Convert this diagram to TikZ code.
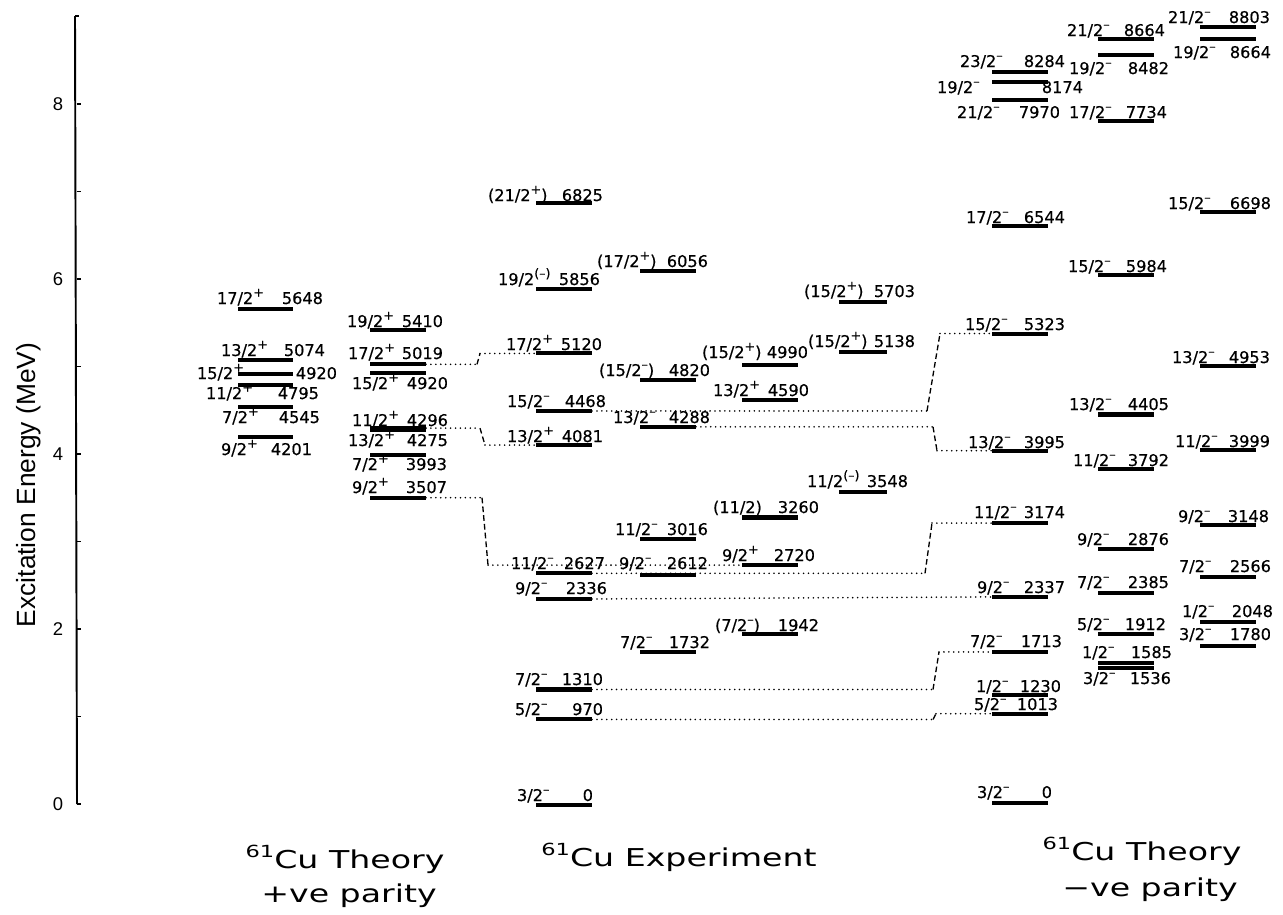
\documentclass[tikz,border=0pt]{standalone}
\usepackage{fontspec}
\setmainfont{DejaVu Sans}
\newfontfamily\helv{Liberation Sans}
\newfontfamily\lblfont[FakeBold=0.5]{DejaVu Sans}
\newfontfamily\widefont[FakeStretch=1.35]{DejaVu Sans}
\usetikzlibrary{calc}
\newcommand\spp[1]{\raisebox{0.45em}{\fontsize{7.2}{7.5}\selectfont #1}}
\newcommand\mi{\textendash}
\newcommand\isot{\raisebox{0.42em}{\fontsize{9.5}{9.5}\selectfont 61}}
\tikzset{
  lvlbar/.style={line width=2.3pt},
  lbl/.style={font=\lblfont\fontsize{9.2}{10}\selectfont, inner sep=0pt, outer sep=0pt},
  dotln/.style={line width=1pt, line cap=round, dash pattern=on 0pt off 2.8pt},
  dashln/.style={line width=0.75pt, dash pattern=on 3.2pt off 1.8pt},
  ttl/.style={font=\widefont\fontsize{14}{16}\selectfont, inner sep=0pt},
  ticklbl/.style={font=\helv\fontsize{10.5}{11}\selectfont, inner sep=0pt},
  axisln/.style={line width=1.1pt},
}
% #1 name, #2 xL, #3 xR, #4 spin x, #5 baseline, #6 spin, #7 energy, #8 energy right x
\newcommand\lvl[8]{%
  \pgfmathsetmacro\yy{805-0.0882*#7+\coloff}%
  \coordinate (#1L) at (#2,\yy);%
  \coordinate (#1R) at (#3,\yy);%
  \draw[lvlbar] (#1L) -- (#1R);%
  \node[lbl,anchor=base west] (#1s) at (#4,#5) {#6};%
  \node[lbl,anchor=base east] (#1e) at (#8,#5) {#7};%
}
\begin{document}
\begin{tikzpicture}[x=0.02cm,y=-0.02cm]
\useasboundingbox (0,0) rectangle (1283,914);

% axis
\coordinate (axtop) at (75,16);
\coordinate (axbot) at (77,804);
\draw[axisln] (axtop) -- (axbot);
\draw[axisln] (axtop) -- ++(4,0);
\foreach \e in {0,...,8}{
  \pgfmathsetmacro\ty{804-87.5*\e}
  \draw[line width=0.8pt] (76.5,\ty) -- (81,\ty);
}
\foreach \e in {0,2,4,6,8}{
  \pgfmathsetmacro\ty{804-87.5*\e}
  \node[ticklbl] (tick\e) at (58,\ty) {\e};
}
\node[font=\helv\fontsize{15}{16}\selectfont, rotate=90, inner sep=0pt] (ylabel) at (29,485) {Excitation Energy (MeV)};

% Theory + parity, column a
\def\coloff{(2.5)}
\lvl{ta5648}{238}{293}{217}{304}{17/2\spp{+}}{5648}{323}
\lvl{ta5074}{238}{293}{221}{356}{13/2\spp{+}}{5074}{325}
\lvl{ta4920}{238}{293}{197}{379}{15/2\spp{+}}{4920}{337}
\lvl{ta4795}{238}{293}{206}{399}{11/2\spp{+}}{4795}{319}
\lvl{ta4545}{238}{293}{222}{423}{7/2\spp{+}}{4545}{320}
\lvl{ta4201}{238}{293}{221}{455}{9/2\spp{+}}{4201}{312}

% Theory + parity, column b
\def\coloff{(2)}
\lvl{tb5410}{370}{426}{347}{327}{19/2\spp{+}}{5410}{443}
\lvl{tb5019}{370}{426}{348}{359}{17/2\spp{+}}{5019}{443}
\lvl{tb4920}{370}{426}{352}{389}{15/2\spp{+}}{4920}{448}
\lvl{tb4296}{370}{426}{352}{426}{11/2\spp{+}}{4296}{448}
\lvl{tb4275}{370}{426}{348}{446}{13/2\spp{+}}{4275}{448}
\lvl{tb3993}{370}{426}{352}{470}{7/2\spp{+}}{3993}{447}
\lvl{tb3507}{370}{426}{352}{493}{9/2\spp{+}}{3507}{447}

% Experiment
\def\coloff{(0)}
\lvl{ea6825}{536}{592}{488}{201}{(21/2\spp{+})}{6825}{603}
\lvl{ea5856}{536}{592}{498}{285}{19/2\spp{(\mi)}}{5856}{600}
\lvl{ea5120}{536}{592}{506}{350}{17/2\spp{+}}{5120}{602}
\lvl{ea4468}{536}{592}{507}{407}{15/2\spp{\mi}}{4468}{606}
\lvl{ea4081}{536}{592}{507}{442}{13/2\spp{+}}{4081}{603}
\lvl{ea2627}{536}{592}{511}{569}{11/2\spp{\mi}}{2627}{605}
\lvl{ea2336}{536}{592}{515}{594}{9/2\spp{\mi}}{2336}{607}
\lvl{ea1310}{536}{592}{515}{685}{7/2\spp{\mi}}{1310}{603}
\lvl{ea970}{536}{592}{515}{715}{5/2\spp{\mi}}{970}{603}
\lvl{ea0}{536}{592}{517}{801}{3/2\spp{\mi}}{0}{593}

\lvl{eb6056}{640}{696}{597}{267}{(17/2\spp{+})}{6056}{708}
\lvl{eb4820}{640}{696}{599}{376}{(15/2\spp{\mi})}{4820}{710}
\lvl{eb4288}{640}{696}{613}{423}{13/2\spp{\mi}}{4288}{710}
\lvl{eb3016}{640}{696}{615}{535}{11/2\spp{\mi}}{3016}{708}
\lvl{eb2612}{640}{696}{619}{569}{9/2\spp{\mi}}{2612}{708}
\lvl{eb1732}{640}{696}{620}{648}{7/2\spp{\mi}}{1732}{710}

\lvl{ec4990}{742}{798}{702}{358}{(15/2\spp{+})}{4990}{808}
\lvl{ec4590}{742}{798}{713}{396}{13/2\spp{+}}{4590}{809}
\lvl{ec3260}{742}{798}{713}{513}{(11/2)}{3260}{819}
\lvl{ec2720}{742}{798}{722}{561}{9/2\spp{+}}{2720}{815}
\lvl{ec1942}{742}{798}{715}{631}{(7/2\spp{\mi})}{1942}{819}

\lvl{ed5703}{839}{887}{804}{297}{(15/2\spp{+})}{5703}{915}
\lvl{ed5138}{839}{887}{808}{347}{(15/2\spp{+})}{5138}{915}
\lvl{ed3548}{839}{887}{807}{487}{11/2\spp{(\mi)}}{3548}{908}

% Theory - parity
\def\coloff{(-2)}
\lvl{ra8284}{992}{1048}{960}{67}{23/2\spp{\mi}}{8284}{1065}
\lvl{ra8174}{992}{1048}{937}{93}{19/2\spp{\mi}}{8174}{1083}
\lvl{ra7970}{992}{1048}{957}{118}{21/2\spp{\mi}}{7970}{1060}
\lvl{ra6544}{992}{1048}{966}{223}{17/2\spp{\mi}}{6544}{1065}
\lvl{ra5323}{992}{1048}{965}{330}{15/2\spp{\mi}}{5323}{1065}
\lvl{ra3995}{992}{1048}{968}{448}{13/2\spp{\mi}}{3995}{1065}
\lvl{ra3174}{992}{1048}{974}{518}{11/2\spp{\mi}}{3174}{1065}
\lvl{ra2337}{992}{1048}{977}{593}{9/2\spp{\mi}}{2337}{1065}
\lvl{ra1713}{992}{1048}{970}{647}{7/2\spp{\mi}}{1713}{1062}
\lvl{ra1230}{992}{1048}{976}{692}{1/2\spp{\mi}}{1230}{1061}
\lvl{ra1013}{992}{1048}{974}{710}{5/2\spp{\mi}}{1013}{1058}
\lvl{ra0}{992}{1048}{977}{798}{3/2\spp{\mi}}{0}{1052}

\lvl{rb8664}{1098}{1154}{1067}{36}{21/2\spp{\mi}}{8664}{1165}
\lvl{rb8482}{1098}{1154}{1069}{74}{19/2\spp{\mi}}{8482}{1169}
\lvl{rb7734}{1098}{1154}{1069}{118}{17/2\spp{\mi}}{7734}{1167}
\lvl{rb5984}{1098}{1154}{1068}{272}{15/2\spp{\mi}}{5984}{1167}
\lvl{rb4405}{1098}{1154}{1069}{410}{13/2\spp{\mi}}{4405}{1169}
\lvl{rb3792}{1098}{1154}{1073}{466}{11/2\spp{\mi}}{3792}{1169}
\lvl{rb2876}{1098}{1154}{1077}{545}{9/2\spp{\mi}}{2876}{1169}
\lvl{rb2385}{1098}{1154}{1077}{588}{7/2\spp{\mi}}{2385}{1169}
\lvl{rb1912}{1098}{1154}{1077}{630}{5/2\spp{\mi}}{1912}{1166}
\lvl{rb1585}{1098}{1154}{1082}{658}{1/2\spp{\mi}}{1585}{1172}
\lvl{rb1536}{1098}{1154}{1083}{684}{3/2\spp{\mi}}{1536}{1171}

\lvl{rc8803}{1200}{1256}{1168}{23}{21/2\spp{\mi}}{8803}{1270}
\lvl{rc8664}{1200}{1256}{1173}{58}{19/2\spp{\mi}}{8664}{1271}
\lvl{rc6698}{1200}{1256}{1168}{209}{15/2\spp{\mi}}{6698}{1271}
\lvl{rc4953}{1200}{1256}{1172}{363}{13/2\spp{\mi}}{4953}{1270}
\lvl{rc3999}{1200}{1256}{1175}{447}{11/2\spp{\mi}}{3999}{1270}
\lvl{rc3148}{1200}{1256}{1178}{522}{9/2\spp{\mi}}{3148}{1269}
\lvl{rc2566}{1200}{1256}{1179}{572}{7/2\spp{\mi}}{2566}{1271}
\lvl{rc2048}{1200}{1256}{1182}{617}{1/2\spp{\mi}}{2048}{1273}
\lvl{rc1780}{1200}{1256}{1179}{640}{3/2\spp{\mi}}{1780}{1271}

% connectors
\draw[dotln] (tb5019R) -- ++(51,0) coordinate (k1a);
\draw[dashln] (k1a) -- ($(k1a |- ea5120L)+(3,0)$) coordinate (k1b);
\draw[dotln] (k1b) -- (ea5120L);

\draw[dotln] (tb4296R) -- ++(54,0) coordinate (k2a);
\draw[dashln] (k2a) -- ($(k2a |- ea4081L)+(5,0)$) coordinate (k2b);
\draw[dotln] (k2b) -- (ea4081L);

\draw[dotln] (tb3507R) -- ++(56,0) coordinate (k3a);
\draw[dashln] (k3a) -- ($(k3a |- ec2720L)+(6,0)$) coordinate (k3b);
\draw[dotln] (k3b) -- (ec2720L);

\draw[dotln] (ea4468R) -- ++(335,0) coordinate (k4a);
\draw[dashln] (k4a) -- ($(k4a |- ra5323L)+(13,0)$) coordinate (k4b);
\draw[dotln] (k4b) -- (ra5323L);

\draw[dotln] (eb4288R) -- ++(237,0) coordinate (k5a);
\draw[dashln] (k5a) -- ($(k5a |- ra3995L)+(4,0)$) coordinate (k5b);
\draw[dotln] (k5b) -- (ra3995L);

\draw[dotln] (ea2627R) -- ++(333,0) coordinate (k6a);
\draw[dashln] (k6a) -- ($(k6a |- ra3174L)+(7,0)$) coordinate (k6b);
\draw[dotln] (k6b) -- (ra3174L);

\draw[dotln] (ea2336R) -- (ra2337L);

\draw[dotln] (ea1310R) -- ++(341,0) coordinate (k8a);
\draw[dashln] (k8a) -- ($(k8a |- ra1713L)+(6,0)$) coordinate (k8b);
\draw[dotln] (k8b) -- (ra1713L);

\draw[dotln] (ea970R) -- ++(341,0) coordinate (k9a);
\draw[dashln] (k9a) -- ($(k9a |- ra1013L)+(3,0)$) coordinate (k9b);
\draw[dotln] (k9b) -- (ra1013L);

% titles
\node[ttl,anchor=base] (h1) at (345,868) {\isot Cu Theory};
\node[ttl,anchor=base] (h1b) at (349,902) {+ve parity};
\node[ttl,anchor=base west] (h2) at (541,866) {\isot Cu Experiment};
\node[ttl,anchor=base] (h3) at (1142,860) {\isot Cu Theory};
\node[ttl,anchor=base] (h3b) at (1150,896) {−ve parity};
\end{tikzpicture}
\end{document}
